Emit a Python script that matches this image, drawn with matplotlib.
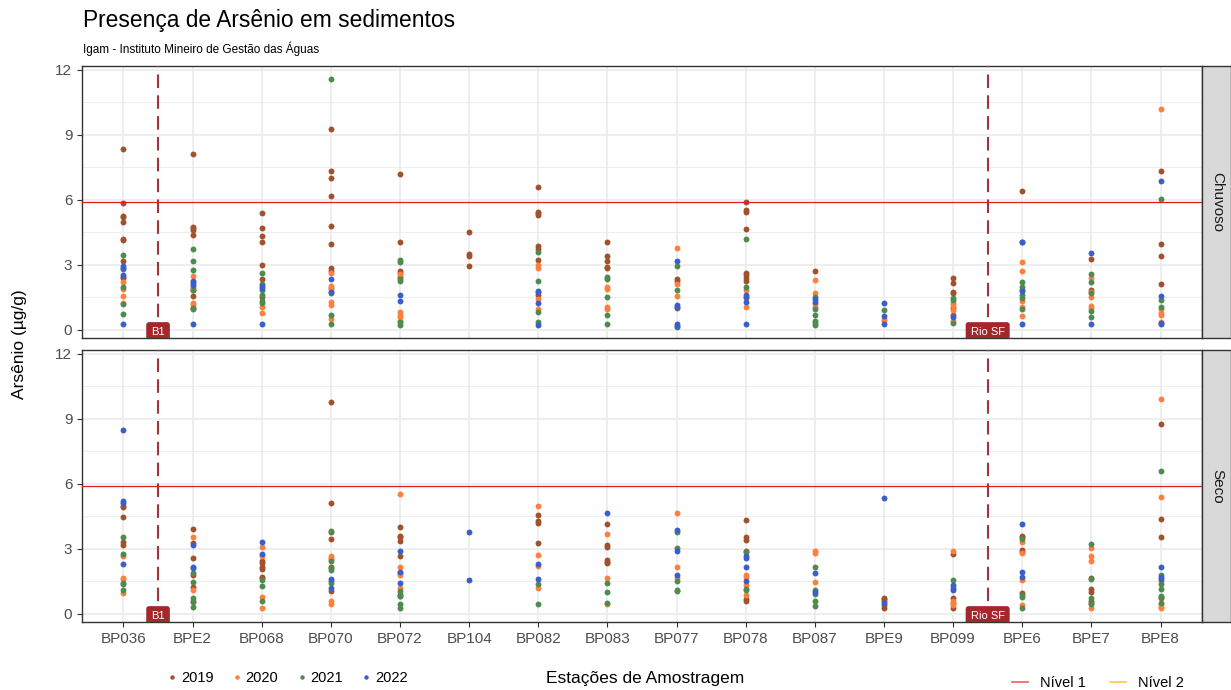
import matplotlib
matplotlib.use("Agg")
import matplotlib.pyplot as plt
from matplotlib.lines import Line2D
from matplotlib.patches import Rectangle

plt.rcParams['font.family'] = ['Liberation Sans', 'DejaVu Sans']

stations = ["BP036", "BPE2", "BP068", "BP070", "BP072", "BP104", "BP082", "BP083",
            "BP077", "BP078", "BP087", "BPE9", "BP099", "BPE6", "BPE7", "BPE8"]
years = ["2019", "2020", "2021", "2022"]
year_colors = ["#A0522D", "#FF7F3F", "#4E8B4E", "#3A5FCD"]
nivel_1 = 5.9
nivel_2 = 17.0

# Chuvoso (rainy season)
chuvoso_2019 = {
    "BP036": [8.35, 5.85, 5.28, 5.23, 4.97, 4.2, 4.15, 3.17, 2.46, 2.38],
    "BPE2": [8.1, 4.77, 4.69, 4.62, 4.38, 1.85, 1.57],
    "BP068": [5.4, 4.69, 4.34, 4.08, 2.98, 2.35, 1.5],
    "BP070": [9.28, 7.34, 7.03, 6.2, 4.8, 3.95, 2.85, 2.74, 1.92],
    "BP072": [7.2, 4.08, 2.72, 2.62, 2.46],
    "BP104": [4.52, 3.49, 3.42, 2.94],
    "BP082": [6.58, 5.46, 5.38, 5.3, 3.88, 3.72, 3.23, 1.62],
    "BP083": [4.05, 3.43, 3.18, 2.92, 2.85],
    "BP077": [2.34, 2.28, 1.0],
    "BP078": [5.89, 5.54, 5.43, 4.66, 2.62, 2.54, 2.38, 2.28],
    "BP087": [2.72],
    "BPE9": [],
    "BP099": [2.42, 2.15, 1.77, 1.69, 1.0, 0.69],
    "BPE6": [6.43, 4.05],
    "BPE7": [3.29, 1.85],
    "BPE8": [7.34, 3.95, 3.43, 2.11],
}
chuvoso_2020 = {
    "BP036": [2.23, 1.88, 1.57, 1.26],
    "BPE2": [2.49, 2.0, 1.92, 1.26, 1.15, 1.0],
    "BP068": [1.08, 0.77],
    "BP070": [2.62, 2.03, 1.85, 1.31, 1.15, 0.49],
    "BP072": [2.6, 0.82, 0.69, 0.58, 0.43],
    "BP104": [],
    "BP082": [3.0, 2.85, 1.42, 0.95],
    "BP083": [2.0, 1.89, 1.05, 0.95],
    "BP077": [3.77, 2.12, 1.57],
    "BP078": [1.85, 1.46, 1.08],
    "BP087": [2.32, 1.69, 1.18, 1.08],
    "BPE9": [0.49, 0.42],
    "BP099": [1.26, 1.15, 0.92, 0.43],
    "BPE6": [3.12, 2.72, 1.35, 1.05, 0.65],
    "BPE7": [2.42, 1.77, 1.51, 1.11, 1.0],
    "BPE8": [10.2, 0.95, 0.8, 0.69, 0.38],
}
chuvoso_2021 = {
    "BP036": [3.46, 2.8, 2.0, 1.2, 0.74],
    "BPE2": [3.72, 3.2, 2.75, 1.85, 1.03, 0.97],
    "BP068": [2.65, 2.12, 1.85, 1.62, 1.35, 1.26],
    "BP070": [11.6, 1.72, 0.69, 0.26],
    "BP072": [3.23, 3.15, 2.34, 2.28, 0.35, 0.23],
    "BP104": [],
    "BP082": [3.6, 2.28, 0.85, 0.35],
    "BP083": [2.43, 2.34, 1.54, 0.69, 0.26],
    "BP077": [2.95, 1.85, 0.12],
    "BP078": [4.22, 2.0],
    "BP087": [1.51, 0.97, 0.69, 0.42, 0.31, 0.23],
    "BPE9": [0.92],
    "BP099": [1.46, 1.4, 0.31],
    "BPE6": [2.2, 2.0, 1.85, 1.62, 1.49, 0.95],
    "BPE7": [2.57, 2.2, 1.69, 0.89, 0.62],
    "BPE8": [6.03, 1.38, 1.05],
}
chuvoso_2022 = {
    "BP036": [2.97, 2.85, 2.54, 0.26],
    "BPE2": [2.28, 2.18, 2.08, 0.26],
    "BP068": [2.03, 1.92, 0.26],
    "BP070": [2.35, 1.77],
    "BP072": [1.62, 1.35],
    "BP104": [],
    "BP082": [1.82, 1.74, 1.23, 0.23],
    "BP083": [],
    "BP077": [3.17, 1.15, 1.08, 0.28, 0.2],
    "BP078": [1.62, 1.54, 1.28, 0.26],
    "BP087": [1.42, 1.31],
    "BPE9": [1.23, 0.66, 0.26],
    "BP099": [0.58],
    "BPE6": [4.08, 1.8, 0.26],
    "BPE7": [3.57, 0.26],
    "BPE8": [6.86, 1.58, 0.31, 0.26],
}

# Seco (dry season)
seco_2019 = {
    "BP036": [5.0, 4.93, 4.49, 3.31, 3.16],
    "BPE2": [3.92, 3.26, 2.6, 1.79, 1.24],
    "BP068": [2.44, 2.33, 2.18, 2.07, 1.71, 1.66],
    "BP070": [9.78, 5.11, 3.78, 3.47, 2.18, 1.07],
    "BP072": [4.01, 3.61, 3.54, 3.37, 2.67, 1.87, 0.85],
    "BP104": [],
    "BP082": [4.59, 4.31, 4.2, 3.26],
    "BP083": [4.13, 3.16, 3.08, 2.49, 2.41, 2.33],
    "BP077": [],
    "BP078": [4.35, 3.54, 3.42, 2.91, 0.67, 0.59],
    "BP087": [],
    "BPE9": [0.75, 0.67, 0.58, 0.42, 0.28],
    "BP099": [2.75, 0.73, 0.51, 0.28],
    "BPE6": [3.62, 3.54, 2.95, 2.88, 0.96],
    "BPE7": [1.68, 1.13, 1.01, 0.62, 0.51],
    "BPE8": [8.77, 4.37, 3.54, 0.75],
}
seco_2020 = {
    "BP036": [2.69, 1.66, 1.6, 0.98],
    "BPE2": [3.53, 1.09],
    "BP068": [3.08, 2.67, 0.78, 0.26],
    "BP070": [2.69, 2.6, 2.53, 0.62, 0.44],
    "BP072": [5.55, 2.15, 1.79, 1.2],
    "BP104": [],
    "BP082": [4.97, 2.7, 2.21, 1.2],
    "BP083": [3.68, 1.68, 0.45],
    "BP077": [4.66, 2.18, 1.66],
    "BP078": [1.79, 1.71, 1.35, 0.89],
    "BP087": [2.91, 2.8, 1.48],
    "BPE9": [],
    "BP099": [2.92, 0.62, 0.42],
    "BPE6": [3.34, 2.8, 1.55, 0.42],
    "BPE7": [3.03, 2.69, 2.46, 0.28],
    "BPE8": [9.92, 5.41, 1.52, 0.47, 0.34, 0.28],
}
seco_2021 = {
    "BP036": [3.53, 2.77, 1.45, 1.37, 1.12],
    "BPE2": [1.87, 1.48, 0.73, 0.62, 0.54, 0.31],
    "BP068": [1.55, 1.29, 0.62],
    "BP070": [3.84, 2.44, 2.1, 2.02, 1.52, 1.45],
    "BP072": [1.04, 0.93, 0.82, 0.47, 0.26],
    "BP104": [],
    "BP082": [1.37, 0.45],
    "BP083": [1.43, 1.01, 0.5],
    "BP077": [3.78, 3.03, 1.52, 1.09, 1.04],
    "BP078": [2.84, 1.17, 1.09],
    "BP087": [2.15, 1.09, 0.93, 0.58, 0.39],
    "BPE9": [],
    "BP099": [1.55],
    "BPE6": [3.47, 0.89, 0.78, 0.28],
    "BPE7": [3.23, 1.6, 0.73, 0.47],
    "BPE8": [6.59, 1.82, 1.4, 1.17, 0.85, 0.78, 0.5],
}
seco_2022 = {
    "BP036": [8.5, 5.21, 5.13, 2.3],
    "BPE2": [3.19, 2.18, 2.13],
    "BP068": [3.34, 2.77],
    "BP070": [1.6, 1.2],
    "BP072": [2.91, 1.94, 1.45],
    "BP104": [3.78, 1.55],
    "BP082": [2.3, 1.63],
    "BP083": [4.66],
    "BP077": [3.86, 2.91, 1.79],
    "BP078": [2.67, 2.6, 2.18, 1.51],
    "BP087": [1.87, 1.01],
    "BPE9": [5.33, 0.5],
    "BP099": [1.32, 1.21, 1.12],
    "BPE6": [4.15, 1.94, 1.69],
    "BPE7": [],
    "BPE8": [2.19, 1.71, 1.63],
}

seasons = ["Chuvoso", "Seco"]
season_data = [
    [chuvoso_2019, chuvoso_2020, chuvoso_2021, chuvoso_2022],
    [seco_2019, seco_2020, seco_2021, seco_2022],
]
boundaries = [(1.5, "B1"), (13.5, "Rio SF")]

W, H = 1231, 690
fig = plt.figure(figsize=(W / 100, H / 100), dpi=100)

ax_left = 82 / W
ax_width = 1120 / W
panel_px = [(66, 338), (350, 622)]
grid_col = "#EBEBEB"
axes = []

for k, (season, yearly) in enumerate(zip(seasons, season_data)):
    top, bot = panel_px[k]
    ax = fig.add_axes([ax_left, 1 - bot / H, ax_width, (bot - top) / H])
    axes.append(ax)
    ax.set_xlim(0.4, len(stations) + 0.6)
    ax.set_ylim(-0.37, 12.18)

    # grid like theme_bw
    for v in [1.5, 4.5, 7.5, 10.5]:
        ax.axhline(v, color=grid_col, lw=0.6, zorder=0)
    for v in [0, 3, 6, 9, 12]:
        ax.axhline(v, color=grid_col, lw=1.2, zorder=0)
    for i in range(len(stations)):
        ax.axvline(i + 1, color=grid_col, lw=1.2, zorder=0)

    for yr_vals, col in zip(yearly, year_colors):
        xs, ys = [], []
        for i, st in enumerate(stations):
            for v in yr_vals.get(st, []):
                xs.append(i + 1)
                ys.append(v)
        ax.scatter(xs, ys, s=18, color=col, linewidths=0, zorder=3)

    ax.axhline(nivel_1, color="#E31A1C", lw=0.9, zorder=4)
    ax.axhline(nivel_2, color="#FFD04A", lw=0.9, zorder=4)

    for xpos, lab in boundaries:
        ax.axvline(xpos, color="#A3333C", lw=1.5, ls=(0, (6.5, 3.5)), zorder=4)
        ax.text(xpos, -0.1, lab, color="white", fontsize=8, ha="center", va="center",
                zorder=5, clip_on=True,
                bbox=dict(boxstyle="round,pad=0.45,rounding_size=0.25",
                          facecolor="#A3272B", edgecolor="none"))

    ax.set_yticks([0, 3, 6, 9, 12])
    ax.set_xticks(range(1, len(stations) + 1))
    ax.tick_params(axis="both", colors="#333333", labelcolor="#4D4D4D",
                   labelsize=11, length=3.5, width=0.8)
    if k == 0:
        ax.set_xticklabels([])
        ax.tick_params(axis="x", length=0)
    else:
        ax.set_xticklabels(stations)
    for sp in ax.spines.values():
        sp.set_color("#333333")
        sp.set_linewidth(1.0)

    # facet strip on the right
    fig.add_artist(Rectangle((1202 / W, 1 - bot / H), 29 / W, (bot - top) / H,
                             transform=fig.transFigure, facecolor="#D9D9D9",
                             edgecolor="#333333", lw=1.0))
    fig.text(1217 / W, 1 - (top + bot) / 2 / H, season, rotation=-90, fontsize=11,
             color="#1A1A1A", ha="center", va="center")

fig.text(83 / W, 1 - 20 / H, "Presença de Arsênio em sedimentos", fontsize=16.4,
         color="black", ha="left", va="center")
fig.text(83 / W, 1 - 49 / H, "Igam - Instituto Mineiro de Gestão das Águas", fontsize=8.5,
         color="black", ha="left", va="center")
fig.text(20 / W, 1 - 344 / H, "Arsênio (µg/g)", rotation=90, fontsize=12.5,
         ha="center", va="center")
fig.text(645 / W, 1 - 679 / H, "Estações de Amostragem", fontsize=12.5,
         ha="center", va="center")

year_handles = [Line2D([], [], ls="none", marker="o", markersize=3.2, color=c,
                       markeredgewidth=0) for c in year_colors]
fig.legend(year_handles, years, loc="center left", ncol=4, frameon=False,
           bbox_to_anchor=(162 / W, 1 - 678 / H), fontsize=10.5, handlelength=0.6,
           handletextpad=0.3, columnspacing=1.3, borderaxespad=0)

nivel_handles = [Line2D([], [], color="#FF6666", lw=1.3),
                 Line2D([], [], color="#FFD04A", lw=1.3)]
fig.legend(nivel_handles, ["Nível 1", "Nível 2"], loc="center left", ncol=2,
           frameon=False, bbox_to_anchor=(1006 / W, 1 - 683 / H), fontsize=10.5,
           handlelength=1.1, handletextpad=0.8, columnspacing=1.7, borderaxespad=0)

fig.savefig("out.png", dpi=100)
